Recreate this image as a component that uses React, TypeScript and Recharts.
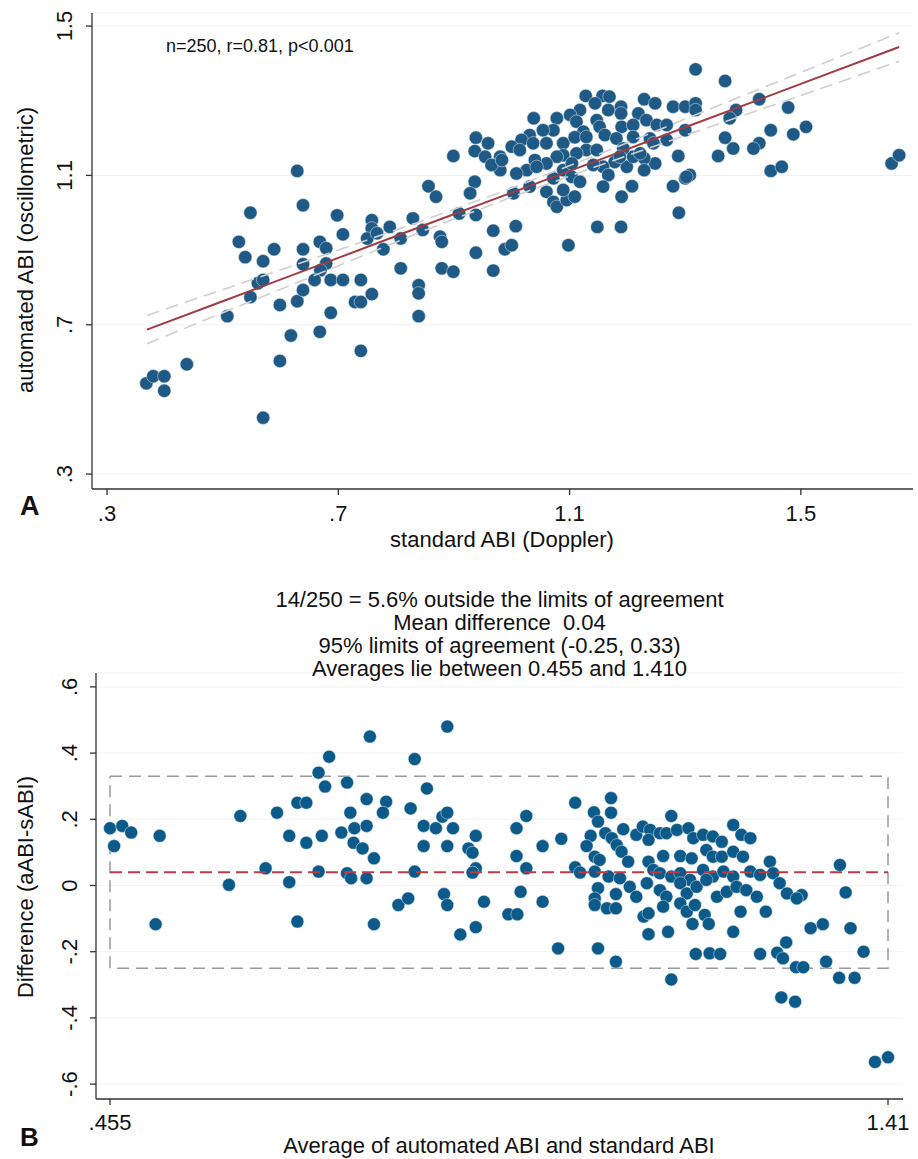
import React from 'react';
import { ScatterChart, Scatter, XAxis, YAxis, CartesianGrid } from 'recharts';

const FONT = '"Liberation Sans", Arial, Helvetica, sans-serif';

// ---------- Panel A: automated (oscillometric) vs standard (Doppler) ABI ----------
const standardAbi = [
  0.368, 0.380, 0.399, 0.399, 0.438, 0.570, 0.599, 0.618, 0.508, 0.548, 0.561, 0.570, 0.570, 0.539, 0.528, 0.548,
  0.629, 0.639, 0.589, 0.599, 0.629, 0.639, 0.639, 0.639, 0.668, 0.668, 0.679, 0.679, 0.669, 0.659, 0.687, 0.687,
  0.708, 0.698, 0.708, 0.739, 0.729, 0.739, 0.739, 0.758, 0.758, 0.758, 0.750, 0.767, 0.789, 0.778, 0.808, 0.808,
  0.829, 0.839, 0.839, 0.839, 0.846, 0.856,
  1.318, 1.369, 1.128, 1.157, 1.169, 1.229, 1.248, 1.279, 1.300, 1.318, 1.318, 1.189, 1.144, 1.167, 1.189, 1.219,
  1.118, 1.101, 1.078, 1.038, 1.112, 1.147, 1.152, 1.124, 1.190, 1.210, 1.233, 1.251, 1.268, 1.300, 1.072, 1.054,
  1.031, 1.017, 0.938, 0.959, 0.899, 0.936, 0.954, 0.980, 1.000, 1.014, 1.037, 1.060, 1.089, 1.109, 1.129, 1.161,
  1.181, 1.210, 1.239, 1.268, 1.369, 1.383, 1.357, 1.288, 1.248, 1.229, 1.229, 1.199, 1.178, 1.158, 1.167, 1.141,
  1.129, 1.112, 1.089, 1.078, 1.060, 1.040, 1.026, 1.008, 0.980, 0.965, 0.983, 1.089, 1.104, 1.118, 1.072, 1.060,
  1.072, 1.078, 1.095, 1.109, 1.089, 1.158, 1.190, 1.208, 1.148, 1.189, 1.098, 1.279, 1.300, 1.308, 1.289, 1.003,
  1.031, 0.936, 0.928, 0.869, 0.909, 0.938, 0.876, 0.879, 0.968, 1.007, 0.938, 0.988, 1.000, 0.879, 0.899, 0.968,
  1.210, 1.245, 1.193, 1.147, 1.043, 1.104, 1.187, 1.222,
  1.428, 1.388, 1.377, 1.478, 1.448, 1.509, 1.487, 1.428, 1.418, 1.448, 1.467, 1.657, 1.670, 1.302,
];
const automatedAbi = [
  0.543, 0.562, 0.562, 0.523, 0.594, 0.451, 0.603, 0.671, 0.723, 0.774, 0.811, 0.820, 0.870, 0.881, 0.922, 1.000,
  1.112, 1.020, 0.902, 0.753, 0.763, 0.793, 0.862, 0.902, 0.681, 0.922, 0.905, 0.864, 0.846, 0.820, 0.820, 0.732,
  0.820, 0.993, 0.942, 0.820, 0.761, 0.761, 0.630, 0.782, 0.980, 0.958, 0.931, 0.945, 0.962, 0.902, 0.931, 0.851,
  0.985, 0.806, 0.784, 0.723, 0.954, 1.071,
  1.384, 1.353, 1.313, 1.313, 1.311, 1.304, 1.293, 1.284, 1.284, 1.293, 1.275, 1.284, 1.293, 1.275, 1.266, 1.266,
  1.275, 1.262, 1.253, 1.253, 1.244, 1.248, 1.230, 1.217, 1.230, 1.235, 1.248, 1.235, 1.235, 1.221, 1.221, 1.221,
  1.208, 1.195, 1.201, 1.186, 1.152, 1.165, 1.150, 1.150, 1.177, 1.168, 1.186, 1.186, 1.186, 1.202, 1.203, 1.208,
  1.199, 1.203, 1.199, 1.195, 1.201, 1.172, 1.152, 1.152, 1.132, 1.146, 1.114, 1.123, 1.136, 1.123, 1.101, 1.128,
  1.168, 1.159, 1.154, 1.150, 1.132, 1.141, 1.114, 1.105, 1.114, 1.128, 1.141, 1.114, 1.096, 1.083, 1.092, 1.056,
  1.029, 1.016, 1.034, 1.043, 1.061, 1.070, 1.043, 1.071, 0.962, 0.962, 0.913, 1.071, 1.092, 1.101, 1.000, 1.052,
  1.070, 1.083, 1.052, 1.043, 0.998, 0.994, 0.936, 0.922, 0.952, 0.964, 0.893, 0.902, 0.913, 0.851, 0.842, 0.845,
  1.150, 1.186, 1.172, 1.168, 1.123, 1.132, 1.150, 1.159,
  1.304, 1.275, 1.253, 1.282, 1.221, 1.230, 1.210, 1.186, 1.172, 1.112, 1.123, 1.132, 1.154, 1.096,
];
// fitted regression line and its 95% confidence band
const fitX = [0.369, 0.5, 0.7, 0.85, 1.0, 1.15, 1.3, 1.5, 1.67];
const fitY = [0.687, 0.763, 0.879, 0.967, 1.054, 1.141, 1.229, 1.345, 1.444];
const ciUpper = [0.725, 0.794, 0.9, 0.981, 1.066, 1.156, 1.251, 1.376, 1.482];
const ciLower = [0.649, 0.732, 0.858, 0.953, 1.042, 1.126, 1.207, 1.314, 1.406];
const aTicks = [0.3, 0.7, 1.1, 1.5];
const aTickLabels = ['.3', '.7', '1.1', '1.5'];
const aStats = 'n=250, r=0.81, p<0.001';

// ---------- Panel B: Bland-Altman ----------
const baAverage = [
  0.455, 0.470, 0.481, 0.460, 0.516, 0.511, 0.615, 0.601, 0.646, 0.660, 0.675, 0.675, 0.685, 0.696, 0.696, 0.685,
  0.711, 0.724, 0.719, 0.715, 0.711, 0.746, 0.750, 0.739, 0.755, 0.754, 0.765, 0.779, 0.746, 0.751, 0.770, 0.779,
  0.774, 0.770, 0.770, 0.794, 0.790, 0.824, 0.829, 0.844, 0.840, 0.855, 0.863, 0.869, 0.876, 0.840, 0.869, 0.829,
  0.809, 0.821, 0.865, 0.869, 0.885, 0.904, 0.869, 0.895, 0.900, 0.904, 0.904, 0.900, 0.914, 0.954, 0.966, 0.954,
  0.966, 0.959, 0.944, 0.955, 0.986, 0.986,
  1.009, 1.026, 1.070, 1.070, 1.049, 1.054, 1.045, 1.040, 1.063, 1.071, 1.085, 1.077, 1.050, 1.056, 1.083, 1.091,
  1.026, 1.032, 1.050, 1.067, 1.081, 1.054, 1.050, 1.050, 1.076, 1.065, 1.076, 1.093, 1.101, 1.005, 1.054, 1.076,
  1.101, 1.109, 1.118, 1.116, 1.130, 1.138, 1.151, 1.165, 1.171, 1.183, 1.195, 1.206, 1.220, 1.230, 1.241, 1.144,
  1.116, 1.134, 1.155, 1.169, 1.187, 1.195, 1.206, 1.220, 1.232, 1.265, 1.122, 1.130, 1.144, 1.155, 1.167, 1.183,
  1.195, 1.208, 1.220, 1.241, 1.253, 1.269, 1.114, 1.130, 1.138, 1.155, 1.163, 1.175, 1.187, 1.200, 1.212, 1.224,
  1.236, 1.249, 1.134, 1.155, 1.163, 1.173, 1.110, 1.116, 1.116, 1.140, 1.170, 1.185, 1.190, 1.220, 1.229, 1.260,
  1.277, 1.286, 1.304, 1.298, 1.174, 1.191, 1.204, 1.253, 1.274, 1.281, 1.285, 1.315, 1.330, 1.334, 1.297, 1.306,
  1.144,
  1.358, 1.364, 1.380, 1.350, 1.369, 1.279, 1.296, 1.394, 1.410, 1.351,
];
const baDifference = [
  0.173, 0.180, 0.160, 0.119, 0.150, -0.117, 0.210, 0.002, 0.052, 0.220, 0.150, 0.010, 0.250, 0.250, 0.129, -0.109,
  0.341, 0.389, 0.299, 0.150, 0.042, 0.311, 0.220, 0.160, 0.173, 0.129, 0.112, 0.082, 0.037, 0.022, 0.022, -0.117,
  0.450, 0.261, 0.180, 0.253, 0.220, 0.233, 0.382, 0.293, 0.180, 0.173, 0.208, 0.220, 0.173, 0.119, 0.119, 0.042,
  -0.059, -0.039, -0.026, -0.059, -0.148, -0.126, 0.480, 0.112, 0.099, 0.150, 0.052, 0.039, -0.049, 0.173, 0.210, 0.089,
  0.052, -0.019, -0.087, -0.087, 0.119, -0.049,
  0.141, 0.250, 0.264, 0.220, 0.221, 0.193, 0.150, 0.119, 0.158, 0.143, 0.170, 0.122, 0.087, 0.077, 0.102, 0.072,
  0.055, 0.039, 0.042, 0.027, 0.022, -0.008, -0.039, -0.059, -0.026, -0.069, -0.069, -0.004, -0.034, -0.190, -0.190, -0.230,
  0.153, 0.178, 0.168, 0.138, 0.158, 0.158, 0.168, 0.173, 0.143, 0.153, 0.148, 0.132, 0.183, 0.153, 0.143, 0.210,
  0.072, 0.089, 0.089, 0.082, 0.107, 0.087, 0.087, 0.102, 0.087, 0.072, 0.047, 0.037, 0.027, 0.037, 0.017, 0.047,
  0.027, 0.042, 0.027, 0.042, 0.032, 0.037, 0.007, -0.014, -0.034, 0.007, -0.024, -0.004, 0.017, -0.034, -0.019, -0.004,
  -0.014, -0.034, -0.064, -0.054, -0.079, -0.059, -0.094, -0.084, -0.147, -0.140, -0.116, -0.089, -0.116, -0.140, -0.079, -0.079,
  0.007, -0.024, -0.029, -0.039, -0.207, -0.205, -0.207, -0.207, -0.203, -0.220, -0.172, -0.129, -0.117, -0.230, -0.247, -0.247,
  -0.284,
  -0.021, -0.129, -0.200, -0.279, -0.279, -0.338, -0.351, -0.533, -0.519, 0.062,
];
const meanDifference = 0.04;
const limitsOfAgreement = [-0.25, 0.33];
const averageRange = [0.455, 1.41];
const bXTicks = [0.455, 1.41];
const bXTickLabels = ['.455', '1.41'];
const bYTicks = [-0.6, -0.4, -0.2, 0, 0.2, 0.4, 0.6];
const bYTickLabels = ['-.6', '-.4', '-.2', '0', '.2', '.4', '.6'];
const bTitle = [
  '14/250 = 5.6% outside the limits of agreement',
  'Mean difference  0.04',
  '95% limits of agreement (-0.25, 0.33)',
  'Averages lie between 0.455 and 1.410',
];

const pairs = (xs: number[], ys: number[]) => xs.map((x, i) => ({ x, y: ys[i] }));
const labelFor = (ticks: number[], labels: string[], v: number) => {
  const i = ticks.findIndex((t) => Math.abs(t - v) < 1e-9);
  return i >= 0 ? labels[i] : String(v);
};

const dot = (r: number, fill: string) => (p: any) =>
  p.cx == null ? <g /> : <circle cx={p.cx} cy={p.cy} r={r} fill={fill} stroke="#e6eef4" strokeWidth={0.5} />;
const noDot = () => <g />;

const makeYTick = (ticks: number[], labels: string[], bx: number) => (p: any) => (
  <text
    x={bx}
    y={p.y}
    transform={`rotate(-90 ${bx} ${p.y})`}
    textAnchor="middle"
    fontSize={22}
    fontFamily={FONT}
    fill="#111"
  >
    {labelFor(ticks, labels, p.payload.value)}
  </text>
);
const makeXTick = (ticks: number[], labels: string[], baseline: number) => (p: any) => (
  <text x={p.x} y={baseline} textAnchor="middle" fontSize={22} fontFamily={FONT} fill="#111">
    {labelFor(ticks, labels, p.payload.value)}
  </text>
);

const AXIS = '#333';

function PanelA() {
  const pts = pairs(standardAbi, automatedAbi);
  return (
    <ScatterChart width={918} height={560} margin={{ top: 13, right: 5, bottom: 31, left: 32 }}>
      <CartesianGrid vertical={false} stroke="#f1f1f1" />
      <XAxis
        type="number"
        dataKey="x"
        domain={[0.274, 1.694]}
        ticks={aTicks}
        allowDataOverflow
        height={40}
        tickSize={6}
        axisLine={{ stroke: AXIS, strokeWidth: 1.3 }}
        tickLine={{ stroke: AXIS, strokeWidth: 1.3 }}
        tick={makeXTick(aTicks, aTickLabels, 521)}
      />
      <YAxis
        type="number"
        dataKey="y"
        domain={[0.26, 1.535]}
        ticks={aTicks}
        allowDataOverflow
        width={60}
        tickSize={6}
        axisLine={{ stroke: AXIS, strokeWidth: 1.3 }}
        tickLine={{ stroke: AXIS, strokeWidth: 1.3 }}
        tick={makeYTick(aTicks, aTickLabels, 72)}
      />
      <Scatter data={pts} shape={dot(6.7, '#1f5985')} isAnimationActive={false} />
      <Scatter
        data={pairs(fitX, ciUpper)}
        line={{ stroke: '#cfcfcf', strokeWidth: 1.6, strokeDasharray: '13 7' }}
        shape={noDot}
        isAnimationActive={false}
      />
      <Scatter
        data={pairs(fitX, ciLower)}
        line={{ stroke: '#cfcfcf', strokeWidth: 1.6, strokeDasharray: '13 7' }}
        shape={noDot}
        isAnimationActive={false}
      />
      <Scatter
        data={pairs(fitX, fitY)}
        line={{ stroke: '#a33a3f', strokeWidth: 2 }}
        shape={noDot}
        isAnimationActive={false}
      />
    </ScatterChart>
  );
}

function PanelB() {
  const pts = pairs(baAverage, baDifference);
  const [lo, hi] = limitsOfAgreement;
  const [a0, a1] = averageRange;
  const box = [
    { x: a0, y: hi },
    { x: a1, y: hi },
    { x: a1, y: lo },
    { x: a0, y: lo },
    { x: a0, y: hi },
  ];
  const mean = [
    { x: a0, y: meanDifference },
    { x: a1, y: meanDifference },
  ];
  return (
    <ScatterChart width={918} height={599} margin={{ top: 113, right: 15, bottom: 20, left: 36 }}>
      <CartesianGrid vertical={false} stroke="#f3f3f3" />
      <XAxis
        type="number"
        dataKey="x"
        domain={[0.4378, 1.4284]}
        ticks={bXTicks}
        allowDataOverflow
        height={40}
        tickSize={6}
        axisLine={{ stroke: AXIS, strokeWidth: 1.3 }}
        tickLine={{ stroke: AXIS, strokeWidth: 1.3 }}
        tick={makeXTick(bXTicks, bXTickLabels, 570)}
      />
      <YAxis
        type="number"
        dataKey="y"
        domain={[-0.645, 0.642]}
        ticks={bYTicks}
        allowDataOverflow
        width={60}
        tickSize={6}
        axisLine={{ stroke: AXIS, strokeWidth: 1.3 }}
        tickLine={{ stroke: AXIS, strokeWidth: 1.3 }}
        tick={makeYTick(bYTicks, bYTickLabels, 77)}
      />
      <Scatter
        data={box}
        line={{ stroke: '#9a9a9a', strokeWidth: 1.5, strokeDasharray: '12 7' }}
        shape={noDot}
        isAnimationActive={false}
      />
      <Scatter data={pts} shape={dot(6.5, '#0b5a8a')} isAnimationActive={false} />
      <Scatter
        data={mean}
        line={{ stroke: '#b93c46', strokeWidth: 2.2, strokeDasharray: '12 6' }}
        shape={noDot}
        isAnimationActive={false}
      />
    </ScatterChart>
  );
}

export default function App() {
  const txt = { fontFamily: FONT, fill: '#111' } as const;
  return (
    <div style={{ position: 'absolute', left: 0, top: 0, width: 918, height: 1159, background: '#fff', overflow: 'hidden' }}>
      <div style={{ position: 'absolute', left: 0, top: 0 }}>
        <PanelA />
      </div>
      <div style={{ position: 'absolute', left: 0, top: 560 }}>
        <PanelB />
      </div>
      <svg width={918} height={1159} style={{ position: 'absolute', left: 0, top: 0, pointerEvents: 'none' }}>
        <text x={166} y={52} fontSize={18} {...txt}>{aStats}</text>
        <text x={502} y={547} fontSize={22} textAnchor="middle" {...txt}>standard ABI (Doppler)</text>
        <text x={33} y={250} fontSize={22} textAnchor="middle" transform="rotate(-90 33 250)" {...txt}>
          automated ABI (oscillometric)
        </text>
        <text x={20} y={515} fontSize={27} fontWeight="bold" {...txt}>A</text>
        {bTitle.map((line, i) => (
          <text
            key={i}
            x={499.5}
            y={607 + i * 23}
            fontSize={22}
            textAnchor="middle"
            style={{ whiteSpace: 'pre' }}
            xmlSpace="preserve"
            {...txt}
          >
            {line}
          </text>
        ))}
        <text x={33} y={887} fontSize={22} textAnchor="middle" transform="rotate(-90 33 887)" {...txt}>
          Difference (aABI-sABI)
        </text>
        <text x={499} y={1153} fontSize={22} textAnchor="middle" {...txt}>Average of automated ABI and standard ABI</text>
        <text x={20} y={1146} fontSize={26} fontWeight="bold" {...txt}>B</text>
      </svg>
    </div>
  );
}
